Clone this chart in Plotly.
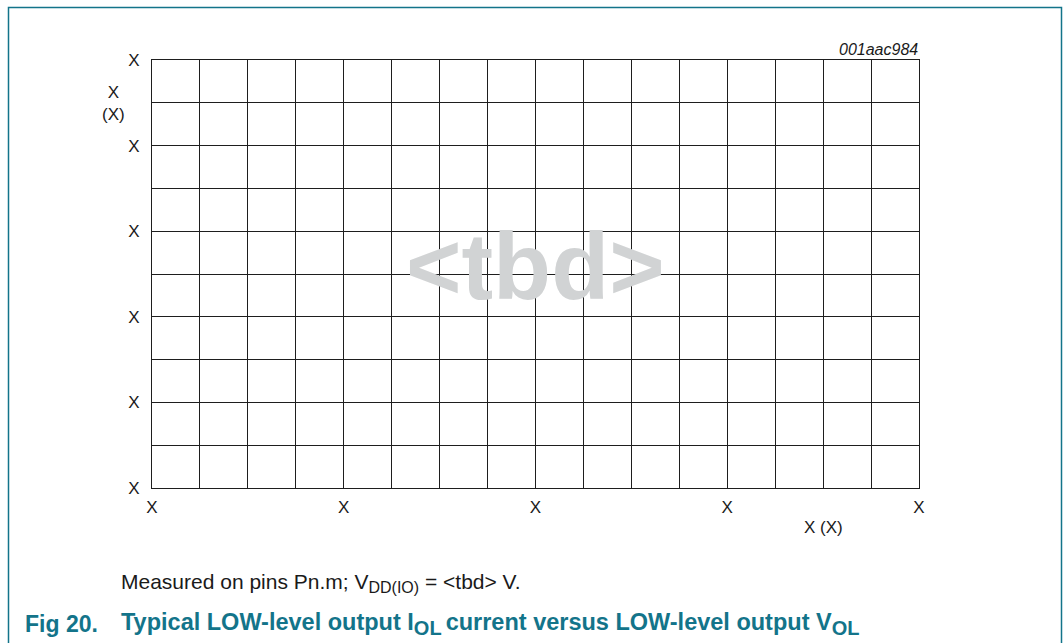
import plotly.graph_objects as go

# Axis definitions (placeholder chart: only grid + "X" labels)
x_grid = list(range(0, 17))            # 16 grid columns
x_tick_labels = ["X" if v % 4 == 0 else " " for v in x_grid]
y_grid = list(range(0, 11))            # 10 grid rows
y_tick_labels = ["X" if v % 2 == 0 else " " for v in y_grid]

x_title = "X (X)"
y_title = "X<br>(X)"
figure_id = "001aac984"
watermark = "&lt;tbd&gt;"
note = ("Measured on pins Pn.m; V<sub><span style='font-size:16px'>DD(IO)</span></sub>"
        " = &lt;tbd&gt; V.")
fig_num = "Fig 20."
caption = ("Typical LOW-level output I<sub><span style='font-size:20px'>OL&#8201;</span></sub>"
           "current versus LOW-level output V<sub><span style='font-size:20px'>OL</span></sub>")

W, H = 1063, 643
L, R, T, B = 152, 1063 - 919, 60, 643 - 488
pw, ph = W - L - R, H - T - B

def px(x):
    return (x - L) / pw

def py(y):
    return (H - B - y) / ph

FONT = "Liberation Sans, Arial, sans-serif"
TEAL = "#13748a"
GRID = "#1e1e1e"

fig = go.Figure()
fig.add_trace(go.Scatter(x=[None], y=[None], showlegend=False, hoverinfo="skip"))

fig.update_layout(
    width=W, height=H,
    margin=dict(l=L, r=R, t=T, b=B),
    paper_bgcolor="white", plot_bgcolor="white",
    showlegend=False,
    font=dict(family=FONT, color="#1a1a1a", size=17),
)
fig.update_xaxes(
    range=[0, 16], tickmode="array", tickvals=x_grid, ticktext=x_tick_labels,
    showgrid=True, gridcolor=GRID, gridwidth=1, zeroline=False,
    showline=True, linecolor=GRID, linewidth=1, mirror=True,
    ticks="", ticklabelstandoff=4, tickfont=dict(size=17, family=FONT, color="#1a1a1a"),
)
fig.update_yaxes(
    range=[0, 10], tickmode="array", tickvals=y_grid, ticktext=y_tick_labels,
    showgrid=True, gridcolor=GRID, gridwidth=1, zeroline=False,
    showline=True, linecolor=GRID, linewidth=1, mirror=True,
    ticks="", ticklabelstandoff=8, tickfont=dict(size=17, family=FONT, color="#1a1a1a"),
)

# frame
fig.add_shape(type="rect", xref="paper", yref="paper",
              x0=px(8.5), x1=px(1061.5), y0=py(660), y1=py(7.5),
              line=dict(color=TEAL, width=1.5), fillcolor="rgba(0,0,0,0)", layer="below")

ann = []
ann.append(dict(text=watermark, x=px(535), y=py(266), xref="paper", yref="paper",
                showarrow=False, xanchor="center", yanchor="middle",
                font=dict(family=FONT, size=95, color="#d1d3d4", weight="bold")))
ann.append(dict(text=figure_id, x=px(920), y=py(49), xref="paper", yref="paper",
                showarrow=False, xanchor="right", yanchor="middle",
                font=dict(family=FONT, size=16, color="#1a1a1a", style="italic")))
ann.append(dict(text=y_title, x=px(113), y=py(103), xref="paper", yref="paper",
                showarrow=False, xanchor="center", yanchor="middle",
                font=dict(family=FONT, size=17, color="#1a1a1a")))
ann.append(dict(text=x_title, x=px(823), y=py(527), xref="paper", yref="paper",
                showarrow=False, xanchor="center", yanchor="middle",
                font=dict(family=FONT, size=17, color="#1a1a1a")))
ann.append(dict(text=note, x=px(119), y=py(583), xref="paper", yref="paper",
                showarrow=False, xanchor="left", yanchor="middle",
                font=dict(family=FONT, size=21, color="#1a1a1a")))
ann.append(dict(text=fig_num, x=px(23), y=py(624), xref="paper", yref="paper",
                showarrow=False, xanchor="left", yanchor="middle",
                font=dict(family=FONT, size=23, color=TEAL, weight="bold")))
ann.append(dict(text=caption, x=px(119), y=py(624), xref="paper", yref="paper",
                showarrow=False, xanchor="left", yanchor="middle",
                font=dict(family=FONT, size=23.5, color=TEAL, weight="bold")))
fig.update_layout(annotations=ann)

fig.write_html("out.html", config={"displayModeBar": False},
               post_script="document.body.style.margin='0';")
